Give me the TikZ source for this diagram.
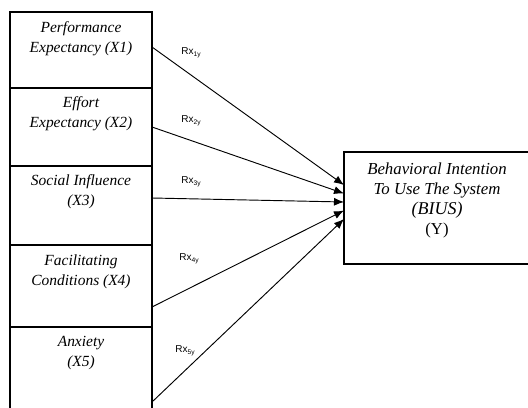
\documentclass[tikz,border=0pt]{standalone}
\usepackage{fontspec}
\setmainfont{Liberation Serif}
\newfontfamily\labfont{Liberation Sans}
\usetikzlibrary{arrows.meta}
\begin{document}
\begin{tikzpicture}[x=0.75pt,y=-0.75pt,
  box/.style={draw,line width=0.8pt,rectangle,minimum width=142*0.75pt,inner sep=0pt},
  txt/.style={font=\fontsize{11.6}{15}\selectfont\itshape,align=center,inner sep=0pt},
  rlab/.style={font=\labfont\fontsize{7.5}{8}\selectfont,inner sep=0pt},
  conn/.style={line width=0.7pt,-{Latex[length=7.5pt,width=6pt]}}]
\useasboundingbox (0,0) rectangle (528,407);
\clip (0,0) rectangle (528,407);
% left boxes
\node[box,minimum height=76*0.75pt] (b1) at (81,50) {};
\node[box,minimum height=78*0.75pt] (b2) at (81,127) {};
\node[box,minimum height=79*0.75pt] (b3) at (81,205.5) {};
\node[box,minimum height=82*0.75pt] (b4) at (81,286) {};
\node[box,minimum height=100*0.75pt] (b5) at (81,377) {};
% right box
\node[box,minimum width=200*0.75pt,minimum height=112*0.75pt] (y) at (444,208) {};
% texts
\node[txt] (t1) at (81,39) {Performance\\Expectancy (X1)};
\node[txt] (t2) at (81,114) {Effort\\Expectancy (X2)};
\node[txt] (t3) at (81,192) {Social Influence\\(X3)};
\node[txt] (t4) at (81,272) {Facilitating\\Conditions (X4)};
\node[txt] (t5) at (81,353) {Anxiety\\(X5)};
\node[txt,font=\fontsize{12.6}{15}\selectfont\itshape] (ty1) at (437,180) {Behavioral Intention\\To Use The System};
\node[txt,font=\fontsize{13.5}{15}\selectfont\itshape] (ty2) at (437,210) {(BIUS)};
\node[txt,font=\fontsize{12.5}{15}\selectfont] (ty3) at (437,230) {(Y)};
% connector anchors
\coordinate (s1) at (152,47);
\coordinate (s2) at (152,127);
\coordinate (s3) at (152,198);
\coordinate (s4) at (152,307);
\coordinate (s5) at (152,402);
\coordinate (e1) at (344,185);
\coordinate (e2) at (344,193.5);
\coordinate (e3) at (344,202);
\coordinate (e4) at (344,210.5);
\coordinate (e5) at (344,219);
\draw[conn] (s1) -- (e1);
\draw[conn] (s2) -- (e2);
\draw[conn] (s3) -- (e3);
\draw[conn] (s4) -- (e4);
\draw[conn] (s5) -- (e5);
% labels
\node[rlab] (r1) at (191,53) {Rx\raisebox{-0.35ex}{\fontsize{5}{5}\selectfont 1y}};
\node[rlab] (r2) at (191,121) {Rx\raisebox{-0.35ex}{\fontsize{5}{5}\selectfont 2y}};
\node[rlab] (r3) at (191,182) {Rx\raisebox{-0.35ex}{\fontsize{5}{5}\selectfont 3y}};
\node[rlab] (r4) at (189,259) {Rx\raisebox{-0.35ex}{\fontsize{5}{5}\selectfont 4y}};
\node[rlab] (r5) at (185,351) {Rx\raisebox{-0.35ex}{\fontsize{5}{5}\selectfont 5y}};
\end{tikzpicture}
\end{document}
